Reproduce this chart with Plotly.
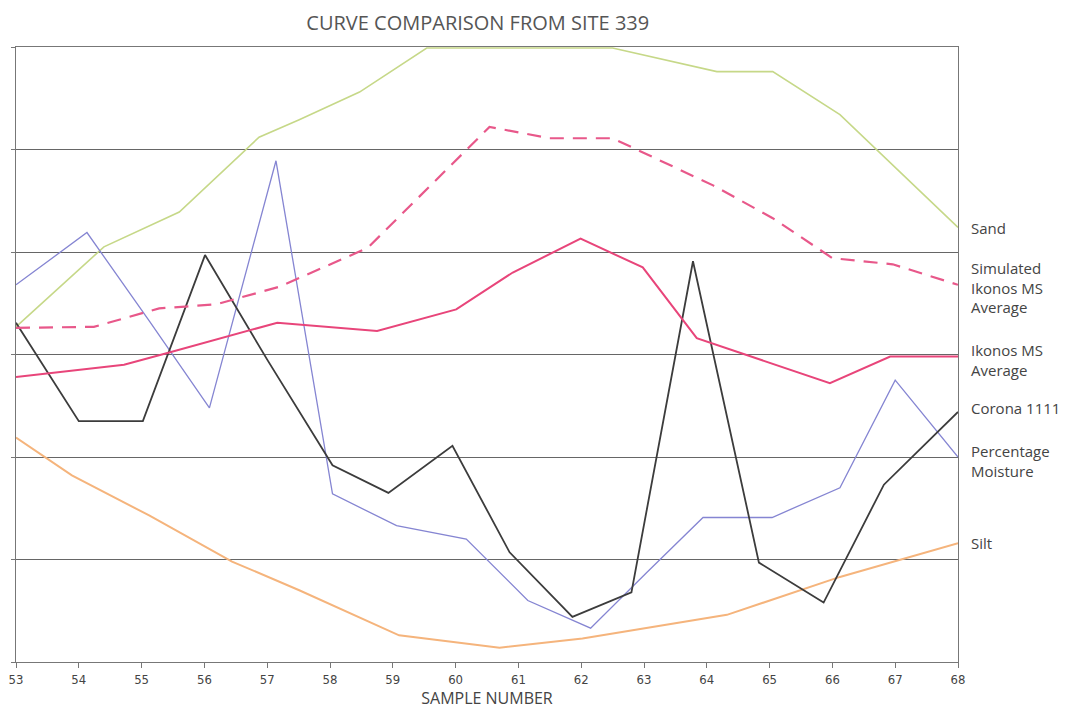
###########################################
# Curve comparison from site 339 (Plotly) #
###########################################

import plotly.graph_objects as go

# sample positions and values
sand_x = [53.0, 54.4, 55.6, 56.87, 57.51, 58.47, 59.54, 62.5, 64.16, 65.05, 66.12, 66.7, 68.0]
sand_y = [3.27, 4.05, 4.39, 5.12, 5.29, 5.56, 5.99, 5.99, 5.76, 5.76, 5.34, 5.0, 4.24]

sim_x = [53.0, 54.24, 55.28, 56.19, 57.19, 58.6, 60.54, 61.5, 62.5, 64.1, 65.05, 66.0, 66.96, 68.0]
sim_y = [3.26, 3.27, 3.45, 3.49, 3.66, 4.04, 5.22, 5.11, 5.11, 4.65, 4.33, 3.94, 3.88, 3.68]

ikonos_x = [53.0, 54.72, 55.44, 57.16, 58.75, 60.01, 60.91, 61.99, 62.98, 63.84, 65.96, 66.92, 68.0]
ikonos_y = [2.78, 2.90, 3.02, 3.31, 3.23, 3.44, 3.80, 4.13, 3.85, 3.16, 2.72, 2.98, 2.98]

corona_x = [53.0, 54.0, 55.02, 56.01, 57.0, 58.04, 58.93, 59.95, 60.86, 61.86, 62.8, 63.78, 64.83, 65.86, 66.82, 68.0]
corona_y = [3.31, 2.35, 2.35, 3.97, 2.95, 1.92, 1.65, 2.11, 1.07, 0.44, 0.68, 3.91, 0.97, 0.58, 1.73, 2.44]

moist_x = [53.0, 54.13, 55.13, 56.08, 57.14, 58.04, 59.06, 60.17, 61.15, 62.15, 63.04, 63.94, 65.04, 66.12, 67.0, 68.0]
moist_y = [3.68, 4.19, 3.32, 2.48, 4.89, 1.64, 1.33, 1.20, 0.60, 0.33, 0.87, 1.41, 1.41, 1.70, 2.75, 2.0]

silt_x = [53.0, 53.89, 55.12, 56.44, 57.51, 59.1, 60.7, 62.02, 64.32, 66.12, 68.0]
silt_y = [2.19, 1.82, 1.43, 0.98, 0.70, 0.26, 0.14, 0.23, 0.46, 0.83, 1.16]

labels = ['Sand', 'Simulated<br>Ikonos MS<br>Average', 'Ikonos MS<br>Average',
          'Corona 1111', 'Percentage<br>Moisture', 'Silt']
label_y = [4.23, 3.65, 2.95, 2.48, 1.96, 1.16]

fig = go.Figure()

# draw each curve
fig.add_trace(go.Scatter(x=sand_x, y=sand_y, mode='lines', line=dict(color='#c6d888', width=1.6)))
fig.add_trace(go.Scatter(x=silt_x, y=silt_y, mode='lines', line=dict(color='#f5b47c', width=2)))
fig.add_trace(go.Scatter(x=moist_x, y=moist_y, mode='lines', line=dict(color='#8585d2', width=1.3)))
fig.add_trace(go.Scatter(x=corona_x, y=corona_y, mode='lines', line=dict(color='#3c3c3c', width=1.8)))
fig.add_trace(go.Scatter(x=ikonos_x, y=ikonos_y, mode='lines', line=dict(color='#e8457a', width=2)))
fig.add_trace(go.Scatter(x=sim_x, y=sim_y, mode='lines',
                         line=dict(color='#e8588a', width=2.2, dash='14px,9px')))

# labels to the right of the plot
for txt, yy in zip(labels, label_y):
    fig.add_annotation(x=1, xref='paper', y=yy, yref='y', text=txt, showarrow=False,
                       xanchor='left', xshift=11, align='left',
                       font=dict(family='Open Sans', size=15, color='#444444'))

# page has an 8px body margin, so the figure is 8px smaller than the window
fig.update_layout(
    width=1075, height=704,
    margin=dict(l=8, r=125, t=39, b=50, autoexpand=False),
    paper_bgcolor='white', plot_bgcolor='white',
    showlegend=False,
    title=dict(text='CURVE COMPARISON FROM SITE 339', x=0.437, xanchor='center',
               y=0.978, yanchor='middle',
               font=dict(family='Open Sans', size=20, color='#555555')),
)
fig.update_xaxes(range=[53, 68], dtick=1, tick0=53, showgrid=False, zeroline=False,
                 showline=True, linecolor='#777777', linewidth=1.2, mirror=True,
                 ticks='outside', ticklen=5, tickcolor='#777777',
                 tickfont=dict(family='DejaVu Sans Condensed, Liberation Sans Narrow, sans-serif',
                               size=13, color='#444444'),
                 title=dict(text='SAMPLE NUMBER', standoff=4,
                            font=dict(family='Open Sans', size=16, color='#444444')))
fig.update_yaxes(range=[0, 6], dtick=1, showgrid=True, gridcolor='#666666', gridwidth=1.3,
                 zeroline=False, showticklabels=False,
                 showline=True, linecolor='#777777', linewidth=1.2, mirror=True,
                 ticks='outside', ticklen=4, tickcolor='#777777')

fig.write_html("out.html")
